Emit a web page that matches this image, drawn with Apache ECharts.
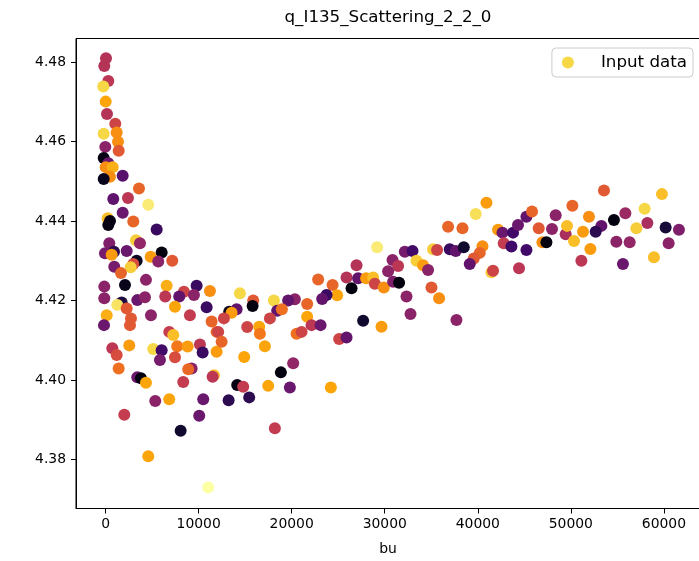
<!DOCTYPE html>
<html>
<head>
<meta charset="utf-8">
<script src="https://cdn.jsdelivr.net/npm/echarts@6/dist/echarts.min.js"></script>
<style>
html,body{margin:0;padding:0;background:#fff;}
#chart{width:699px;height:561px;}
</style>
</head>
<body>
<div id="chart"></div>
<script>
// ---- data (bu, q value, colour value 0..1 on the inferno map) ----
const xs = [
  43,-140,290,-247,11,150,1042,-204,1192,1332,-32,1407,-204,290,11,763,473,-204,1837,3587,827,2406,
  4586,1837,226,473,290,2975,5488,3265,3695,397,-64,902,2266,655,6025,4844,5660,7164,3340,2975,2696,934,1654,4339,2084,-140,6562,8420,9784,11213,-140,1729,1257,3405,4232,6412,7915,9494,7454,10858,2266,2728,118,-172,2621,4876,9065,11395,6841,7271,11932,2545,720,5123,6025,7701,8818,10139,10429,
  1192,5843,7454,11932,1407,3405,3802,4339,9247,8882,8345,11642,11503,5338,6841,10493,2008,10063,8066,4586,11030,
  26968,25894,27140,22844,24391,26431,24885,23746,23274,20342,19622,18087,14435,15863,15799,13285,14080,13543,18441,18945,21663,21663,22135,23102,12716,12104,12469,15219,16507,16583,17657,20524,21061,25099,25894,17120,14897,20159,18838,14144,14789,17474,19805,24208,13221,15433,18193,
  40931,39781,36806,38353,42176,42649,43787,44324,45226,45829,29181,32156,32983,35195,35625,36989,37633,38493,40501,40211,39567,39137,42788,43615,45226,33413,34121,34658,30834,31436,30362,41467,41639,44431,27999,28751,28934,29900,30899,31543,35023,35839,32338,32768,37708,27677,29653,
  53561,59790,50166,57931,48373,51949,54634,55859,49447,49587,46547,47975,51305,53281,52669,57040,58222,60187,61616,50338,46945,47375,54892,56321,60509,52100,58930,51133,55601
];
const ys = [
  4.4810,4.4791,4.4753,4.4739,4.4701,4.4670,4.4645,4.4620,4.4623,4.4600,4.4587,4.4577,4.4559,4.4546,4.4536,4.4536,4.4512,4.4506,4.4514,4.4482,4.4456,4.4458,
  4.4441,4.4421,4.4407,4.4400,4.4390,4.4399,4.4379,4.4352,4.4344,4.4344,4.4319,4.4323,4.4325,4.4315,4.4321,4.4310,4.4298,4.4300,4.4300,4.4292,4.4284,4.4285,4.4269,4.4252,4.4239,4.4235,4.4237,4.4222,4.4237,4.4224,4.4206,4.4195,4.4189,4.4201,4.4208,4.4210,4.4210,4.4214,4.4184,4.4183,4.4180,4.4155,4.4163,4.4138,4.4138,4.4163,4.4163,4.4147,4.4121,4.4113,4.4121,4.4087,4.4080,4.4078,4.4075,4.4085,4.4084,4.4089,4.4069,
  4.4063,4.4050,4.4057,4.4071,4.4029,4.4007,4.4004,4.3993,4.4029,4.4027,4.3995,4.4012,4.4008,4.3947,4.3951,4.3951,4.3912,4.3910,4.3872,4.3808,4.3729,
  4.4289,4.4258,4.4256,4.4253,4.4239,4.4231,4.4213,4.4214,4.4204,4.4203,4.4200,4.4200,4.4218,4.4200,4.4186,4.4172,4.4178,4.4169,4.4174,4.4178,4.4191,4.4159,4.4138,4.4138,4.4155,4.4121,4.4096,4.4133,4.4134,4.4116,4.4155,4.4116,4.4121,4.4103,4.4107,4.4085,4.4058,4.4042,4.4019,4.3987,4.3983,4.3985,4.3981,4.3981,4.3949,4.3956,4.3878,
  4.4446,4.4418,4.4386,4.4382,4.4378,4.4371,4.4371,4.4390,4.4411,4.4424,4.4334,4.4323,4.4325,4.4329,4.4327,4.4329,4.4325,4.4334,4.4337,4.4320,4.4306,4.4292,4.4344,4.4336,4.4327,4.4300,4.4289,4.4277,4.4302,4.4287,4.4274,4.4271,4.4275,4.4281,4.4256,4.4258,4.4242,4.4233,4.4247,4.4245,4.4233,4.4206,4.4210,4.4166,4.4151,4.4149,4.4134,
  4.4477,4.4468,4.4439,4.4431,4.4415,4.4411,4.4403,4.4420,4.4367,4.4388,4.4382,4.4380,4.4373,4.4388,4.4373,4.4382,4.4395,4.4384,4.4378,4.4350,4.4347,4.4347,4.4348,4.4347,4.4344,4.4330,4.4309,4.4300,4.4292
];
const cs = [
  .48,.48,.5,.9,.8,.48,.55,.9,.75,.75,.38,.62,.03,.3,.75,.82,.75,.05,.25,.65,.27,.5,
  .95,.3,.85,.03,.03,.65,.18,.88,.4,.35,.33,.15,.3,.78,.02,.78,.38,.62,.05,.58,.88,.33,.65,.38,.04,.38,.82,.55,.18,.75,.38,.12,.93,.3,.38,.5,.28,.38,.8,.18,.62,.62,.82,.3,.62,.38,.52,.65,.52,.85,.65,.78,.5,.9,.2,.7,.78,.5,.18,
  .58,.33,.58,.78,.68,.3,.02,.8,.38,.66,.52,.85,.5,.38,.8,.3,.52,.3,.08,.8,1.0,
  .48,.48,.28,.65,.65,.02,.8,.18,.28,.38,.28,.9,.9,.62,.02,.04,.28,.78,.28,.68,.65,.8,.5,.3,.55,.55,.65,.55,.8,.7,.55,.68,.55,.55,.28,.8,.8,.4,.02,.03,.52,.8,.3,.8,.15,.15,.52,
  .78,.92,.65,.65,.78,.3,.2,.3,.28,.65,.95,.33,.2,.88,.55,.18,.28,.08,.75,.65,.62,.28,.52,.2,.2,.88,.78,.38,.38,.5,.38,.88,.55,.5,.78,.85,.55,.75,.35,.02,.62,.75,.38,.38,.38,.08,.78,
  .62,.85,.65,.9,.38,.75,.02,.42,.45,.85,.62,.38,.78,.28,.15,.88,.45,.1,.35,.85,.75,.02,.38,.4,.38,.78,.85,.5,.3
];
const xTicks = [0, 10000, 20000, 30000, 40000, 50000, 60000];
const yTicks = [4.38, 4.40, 4.42, 4.44, 4.46, 4.48];
const seriesName = 'Input data';
const chartTitle = 'q_I135_Scattering_2_2_0';
const xName = 'bu';

// ---- styling ----
const inferno = ['#000004','#160b39','#420a68','#6a176e','#932667','#bc3754','#dd513a','#f37819','#fca50a','#f6d746','#fcffa4'];
const FONT = 'DejaVu Sans';

const points = xs.map((x, i) => ({
  value: [x, ys[i]],
  itemStyle: { color: echarts.color.lerp(cs[i], inferno) }
}));

const chart = echarts.init(document.getElementById('chart'), null, { renderer: 'canvas' });
chart.setOption({
  animation: false,
  backgroundColor: '#ffffff',
  textStyle: { fontFamily: FONT },
  title: {
    text: chartTitle,
    left: 388,
    top: 9,
    textAlign: 'center',
    padding: 0,
    textStyle: { fontFamily: FONT, fontSize: 16.7, fontWeight: 'normal', color: '#000' }
  },
  legend: {
    right: 6,
    top: 48,
    padding: [6, 6, 6, 10],
    itemWidth: 28,
    itemHeight: 12,
    backgroundColor: '#ffffff',
    borderColor: '#cccccc',
    borderWidth: 1,
    borderRadius: 4,
    data: [{ name: seriesName, icon: 'circle', itemStyle: { color: '#f6d746' } }],
    textStyle: { fontFamily: FONT, fontSize: 16.7, color: '#000', padding: [0, 0, 0, 14] }
  },
  grid: {
    left: 76, right: -1, top: 38.5, bottom: 52.5,
    show: true, borderColor: '#000', borderWidth: 1,
    containLabel: false, outerBoundsMode: 'none'
  },
  xAxis: {
    type: 'value',
    min: -3180, max: 63880,
    name: xName,
    nameLocation: 'middle',
    nameGap: 34,
    nameTextStyle: { fontFamily: FONT, fontSize: 13.9, color: '#000' },
    splitLine: { show: false },
    axisLine: { show: true, onZero: false, lineStyle: { color: '#000', width: 1 } },
    axisTick: { show: true, length: 5, customValues: xTicks, lineStyle: { color: '#000', width: 1 } },
    axisLabel: { customValues: xTicks, margin: 9, fontFamily: FONT, fontSize: 13.9, color: '#000', formatter: v => String(v) }
  },
  yAxis: {
    type: 'value',
    min: 4.36761, max: 4.4860,
    splitLine: { show: false },
    axisLine: { show: true, onZero: false, lineStyle: { color: '#000', width: 1 } },
    axisTick: { show: true, length: 5, customValues: yTicks, lineStyle: { color: '#000', width: 1 } },
    axisLabel: { customValues: yTicks, margin: 10, fontFamily: FONT, fontSize: 13.9, color: '#000', formatter: v => v.toFixed(2) }
  },
  series: [{
    name: seriesName,
    type: 'scatter',
    symbol: 'circle',
    symbolSize: 12,
    itemStyle: { color: '#f6d746', opacity: 1 },
    emphasis: { disabled: true },
    data: points
  }]
});
</script>
</body>
</html>
